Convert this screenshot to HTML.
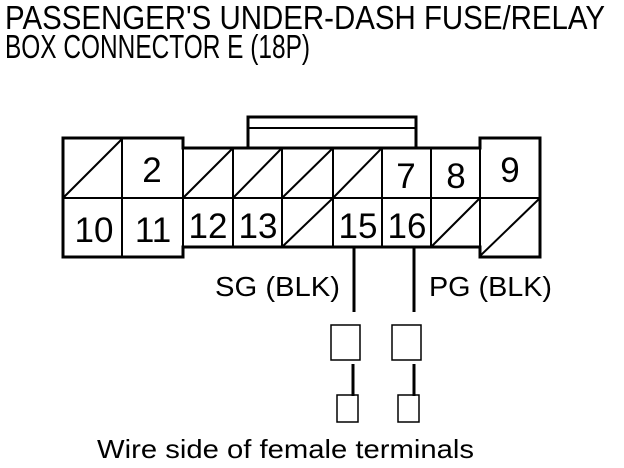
<!DOCTYPE html>
<html><head><meta charset="utf-8"><style>
html,body{margin:0;padding:0;background:#fff;}
svg{display:block;}
text{font-family:"Liberation Sans",Arial,sans-serif;fill:#000;}
</style></head><body>
<svg width="624" height="468" viewBox="0 0 624 468" xmlns="http://www.w3.org/2000/svg">
<text x="5" y="29" font-size="33" textLength="600" lengthAdjust="spacingAndGlyphs">PASSENGER'S UNDER-DASH FUSE/RELAY</text>
<text x="5" y="58" font-size="33" textLength="305" lengthAdjust="spacingAndGlyphs">BOX CONNECTOR E (18P)</text>
<g fill="none" stroke="#000">
<path d="M248 148 V117 H416 V148" stroke-width="3"/>
<line x1="248" y1="128" x2="416" y2="128" stroke-width="2"/>
<path d="M63 138 H183 V148 H480 V138 H540 V257 H480 V247 H183 V257 H63 Z" stroke-width="3"/>
<line x1="63" y1="198" x2="540" y2="198" stroke-width="2"/>
<line x1="122" y1="138" x2="122" y2="257" stroke-width="2"/>
<line x1="183" y1="148" x2="183" y2="247" stroke-width="2"/>
<line x1="233" y1="148" x2="233" y2="247" stroke-width="2"/>
<line x1="282" y1="148" x2="282" y2="247" stroke-width="2"/>
<line x1="333" y1="148" x2="333" y2="247" stroke-width="2"/>
<line x1="382" y1="148" x2="382" y2="247" stroke-width="2"/>
<line x1="431" y1="148" x2="431" y2="247" stroke-width="2"/>
<line x1="480" y1="138" x2="480" y2="257" stroke-width="2"/>
<g stroke-width="2">
<line x1="63" y1="198" x2="122" y2="139"/>
<line x1="183" y1="198" x2="233" y2="148"/>
<line x1="233" y1="198" x2="282" y2="148"/>
<line x1="282" y1="198" x2="333" y2="148"/>
<line x1="333" y1="198" x2="382" y2="148"/>
<line x1="282" y1="247" x2="333" y2="198"/>
<line x1="431" y1="247" x2="480" y2="198"/>
<line x1="480" y1="256" x2="540" y2="198"/>
</g>
<line x1="354" y1="247" x2="354" y2="312" stroke-width="3"/>
<line x1="414" y1="247" x2="414" y2="312" stroke-width="3"/>
<rect x="331" y="325" width="29" height="35" stroke-width="1.5"/>
<rect x="392" y="325" width="29" height="35" stroke-width="1.5"/>
<line x1="353" y1="364" x2="353" y2="396" stroke-width="3"/>
<line x1="414" y1="364" x2="414" y2="396" stroke-width="3"/>
<rect x="337" y="395" width="21" height="27" stroke-width="1.5"/>
<rect x="398" y="395" width="21" height="27" stroke-width="1.5"/>
</g>
<g font-size="35">
<text x="152" y="182" text-anchor="middle">2</text>
<text x="406" y="188" text-anchor="middle">7</text>
<text x="456" y="188" text-anchor="middle">8</text>
<text x="510" y="182" text-anchor="middle">9</text>
<text x="94" y="242" text-anchor="middle">10</text>
<text x="153" y="242" text-anchor="middle">11</text>
<text x="208" y="238" text-anchor="middle">12</text>
<text x="258" y="238" text-anchor="middle">13</text>
<text x="358" y="238" text-anchor="middle">15</text>
<text x="407" y="238" text-anchor="middle">16</text>
</g>
<text x="215" y="296" font-size="28" textLength="125" lengthAdjust="spacingAndGlyphs">SG (BLK)</text>
<text x="429" y="296" font-size="28" textLength="123" lengthAdjust="spacingAndGlyphs">PG (BLK)</text>
<text x="97" y="458" font-size="26" textLength="377" lengthAdjust="spacingAndGlyphs">Wire side of female terminals</text>
</svg>
</body></html>
